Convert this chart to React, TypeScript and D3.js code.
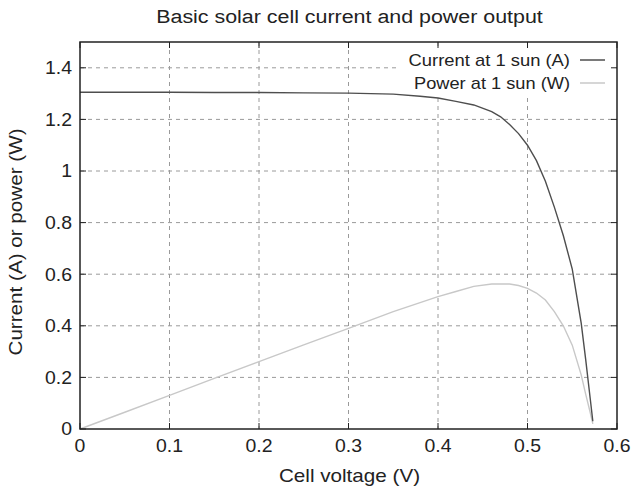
import React from "react";
import * as d3 from "d3";

const currentV = [0, 0.05, 0.1, 0.15, 0.2, 0.25, 0.3, 0.35, 0.38, 0.4, 0.42, 0.44, 0.46, 0.47, 0.48, 0.49, 0.5, 0.51, 0.52, 0.53, 0.54, 0.55, 0.56, 0.565, 0.57, 0.573];
const currentI = [1.305, 1.305, 1.305, 1.304, 1.304, 1.303, 1.302, 1.298, 1.29, 1.283, 1.27, 1.256, 1.23, 1.21, 1.18, 1.145, 1.1, 1.04, 0.96, 0.86, 0.75, 0.62, 0.41, 0.27, 0.12, 0.03];
const powerV = [0, 0.05, 0.1, 0.15, 0.2, 0.25, 0.3, 0.35, 0.4, 0.42, 0.44, 0.46, 0.48, 0.49, 0.5, 0.51, 0.52, 0.53, 0.54, 0.55, 0.56, 0.565, 0.57, 0.573];
const powerP = [0, 0.065, 0.13, 0.196, 0.261, 0.326, 0.39, 0.455, 0.513, 0.533, 0.553, 0.562, 0.562, 0.556, 0.545, 0.527, 0.5, 0.455, 0.4, 0.325, 0.21, 0.135, 0.065, 0.02];
const xTicks = [0, 0.1, 0.2, 0.3, 0.4, 0.5, 0.6];
const yTicks = [0, 0.2, 0.4, 0.6, 0.8, 1, 1.2, 1.4];
const seriesNames = ["Current at 1 sun (A)", "Power at 1 sun (W)"];
const seriesColors = ["#4e4e4e", "#c8c8c8"];

const W = 633, H = 491;
const L = 80, R = 617, T = 42, B = 429;
const FONT = "'Liberation Sans', Arial, Helvetica, sans-serif";

function Txt(props: { x: number; y: number; size: number; sx: number; anchor?: string; dy?: string; rotate?: number; children: React.ReactNode }) {
  const { x, y, size, sx, anchor = "middle", dy, rotate = 0, children } = props;
  return (
    <text transform={`translate(${x},${y}) rotate(${rotate}) scale(${sx},1)`} textAnchor={anchor} dy={dy} fontSize={size} fill="#222">
      {children}
    </text>
  );
}

export default function App() {
  const x = d3.scaleLinear().domain([0, 0.6]).range([L, R]);
  const y = d3.scaleLinear().domain([0, 1.5]).range([B, T]);
  const line = d3.line<[number, number]>().x(d => x(d[0])).y(d => y(d[1]));
  const cur = currentV.map((v, i) => [v, currentI[i]] as [number, number]);
  const pow = powerV.map((v, i) => [v, powerP[i]] as [number, number]);
  const fmt = (v: number) => (v === 0 ? "0" : String(+v.toFixed(1)));
  const tl = 6;
  return (
    <svg width={W} height={H} style={{ position: "absolute", left: 0, top: 0, background: "#fff" }} fontFamily={FONT}>
      <rect x={0} y={0} width={W} height={H} fill="#fff" />
      {xTicks.slice(1, -1).map(t => (
        <line key={"gx" + t} x1={x(t)} x2={x(t)} y1={T} y2={B} stroke="#9a9a9a" strokeWidth={1} strokeDasharray="4,4" />
      ))}
      {yTicks.slice(1).map(t => (
        <line key={"gy" + t} x1={L} x2={R} y1={y(t)} y2={y(t)} stroke="#9a9a9a" strokeWidth={1} strokeDasharray="4,4" />
      ))}
      <path d={line(pow) || ""} fill="none" stroke={seriesColors[1]} strokeWidth={1.4} />
      <path d={line(cur) || ""} fill="none" stroke={seriesColors[0]} strokeWidth={1.4} />
      {seriesNames.map((n, i) => (
        <g key={n}>
          <rect x={400} y={49 + i * 23} width={212} height={22} fill="#fff" />
        </g>
      ))}
      {seriesNames.map((n, i) => (
        <g key={n + "t"}>
          <Txt x={570} y={60 + i * 23} dy="0.35em" anchor="end" size={16} sx={i === 0 ? 1.15 : 1.14}>{n}</Txt>
          <line x1={580} x2={605} y1={60 + i * 23} y2={60 + i * 23} stroke={seriesColors[i]} strokeWidth={1.5} />
        </g>
      ))}
      {xTicks.map(t => (
        <g key={"tx" + t}>
          <line x1={x(t)} x2={x(t)} y1={B} y2={B - tl} stroke="#222" strokeWidth={1} />
          <line x1={x(t)} x2={x(t)} y1={T} y2={T + tl} stroke="#222" strokeWidth={1} />
          <Txt x={x(t)} y={452} size={18} sx={1.08}>{fmt(t)}</Txt>
        </g>
      ))}
      {yTicks.map(t => (
        <g key={"ty" + t}>
          <line x1={L} x2={L + tl} y1={y(t)} y2={y(t)} stroke="#222" strokeWidth={1} />
          <line x1={R} x2={R - tl} y1={y(t)} y2={y(t)} stroke="#222" strokeWidth={1} />
          <Txt x={72} y={y(t)} dy="0.35em" anchor="end" size={18} sx={1.08}>{fmt(t)}</Txt>
        </g>
      ))}
      <rect x={L} y={T} width={R - L} height={B - T} fill="none" stroke="#222" strokeWidth={1.5} />
      <Txt x={349.5} y={23} size={18} sx={1.19}>Basic solar cell current and power output</Txt>
      <Txt x={349.5} y={482} size={17.5} sx={1.18}>Cell voltage (V)</Txt>
      <Txt x={22} y={242} rotate={-90} size={17.5} sx={1.18}>Current (A) or power (W)</Txt>
    </svg>
  );
}
